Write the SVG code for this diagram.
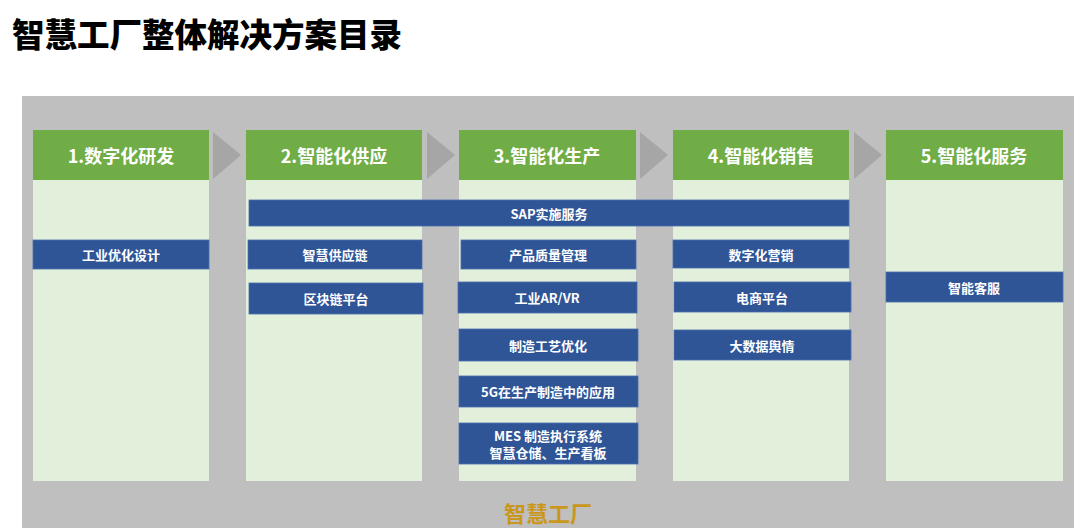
<svg xmlns="http://www.w3.org/2000/svg" width="1080" height="532" viewBox="0 0 1080 532">
<style>
.hd{fill:#70AD47}
.bd{fill:#E2EFDA}
.bar{fill:#2F5597;stroke:#4A6FB0;stroke-width:0.8}
.ht{font-family:"Noto Sans CJK SC","Noto Sans",sans-serif;font-weight:700;font-size:18px;fill:#FFFFFF;text-anchor:middle;dominant-baseline:central}
.it{font-family:"Noto Sans CJK SC","Noto Sans",sans-serif;font-weight:700;font-size:13px;fill:#FFFFFF;text-anchor:middle;dominant-baseline:central}
.arr{fill:#A6A6A6}
</style>
<rect width="1080" height="532" fill="#FFFFFF"/>
<text x="12" y="47" font-family="'Noto Sans CJK SC',sans-serif" font-weight="900" font-size="32.5" fill="#000000">智慧工厂整体解决方案目录</text>
<rect id="frame" x="22" y="96" width="1052" height="432" fill="#BFBFBF"/>
<g id="connectors">
<polygon class="arr" points="213,132 241,155 213,179"/>
<polygon class="arr" points="427,132 455,155 427,179"/>
<polygon class="arr" points="640,132 668,155 640,179"/>
<polygon class="arr" points="854,132 882,155 854,179"/>
</g>
<g id="col1"><rect class="bd" x="33" y="179" width="176" height="302"/><rect class="hd" x="33" y="130" width="176" height="50"/><text class="ht" x="121" y="155">1.数字化研发</text></g>
<g id="col2"><rect class="bd" x="246" y="179" width="176" height="302"/><rect class="hd" x="246" y="130" width="176" height="50"/><text class="ht" x="334" y="155">2.智能化供应</text></g>
<g id="col3"><rect class="bd" x="459" y="179" width="177" height="302"/><rect class="hd" x="459" y="130" width="177" height="50"/><text class="ht" x="547" y="155">3.智能化生产</text></g>
<g id="col4"><rect class="bd" x="673" y="179" width="176" height="302"/><rect class="hd" x="673" y="130" width="176" height="50"/><text class="ht" x="761" y="155">4.智能化销售</text></g>
<g id="col5"><rect class="bd" x="886" y="179" width="177" height="302"/><rect class="hd" x="886" y="130" width="177" height="50"/><text class="ht" x="974" y="155">5.智能化服务</text></g>
<g id="sap"><rect class="bar" x="249" y="200" width="600" height="26"/><text class="it" x="549" y="213">SAP实施服务</text></g>
<g id="i1"><rect class="bar" x="33" y="240" width="176" height="29"/><text class="it" x="121" y="254.5">工业优化设计</text></g>
<g id="i2"><rect class="bar" x="248" y="240" width="174" height="29"/><text class="it" x="335" y="254.5">智慧供应链</text></g>
<g id="i3"><rect class="bar" x="249" y="283" width="174" height="31"/><text class="it" x="336" y="298.5">区块链平台</text></g>
<g id="i4"><rect class="bar" x="461" y="240" width="175" height="29"/><text class="it" x="548" y="254.5">产品质量管理</text></g>
<g id="i5"><rect class="bar" x="458" y="282" width="179" height="31"/><text class="it" x="547" y="297.5">工业AR/VR</text></g>
<g id="i6"><rect class="bar" x="459" y="329" width="179" height="32"/><text class="it" x="548" y="345">制造工艺优化</text></g>
<g id="i7"><rect class="bar" x="459" y="376" width="179" height="31"/><text class="it" x="548" y="391.5">5G在生产制造中的应用</text></g>
<g id="i8"><rect class="bar" x="459" y="423" width="179" height="41"/><text class="it" x="548" y="435">MES 制造执行系统</text><text class="it" x="548" y="452">智慧仓储、生产看板</text></g>
<g id="i9"><rect class="bar" x="673" y="240" width="176" height="28"/><text class="it" x="761" y="254">数字化营销</text></g>
<g id="i10"><rect class="bar" x="674" y="282" width="177" height="30"/><text class="it" x="762" y="297">电商平台</text></g>
<g id="i11"><rect class="bar" x="674" y="330" width="177" height="30"/><text class="it" x="762" y="345">大数据舆情</text></g>
<g id="i12"><rect class="bar" x="886" y="272" width="177" height="30"/><text class="it" x="974" y="287">智能客服</text></g>
<text x="548" y="512" font-family="'Noto Sans CJK SC',sans-serif" font-weight="700" font-size="22" fill="#C9971C" text-anchor="middle" dominant-baseline="central">智慧工厂</text>
</svg>
